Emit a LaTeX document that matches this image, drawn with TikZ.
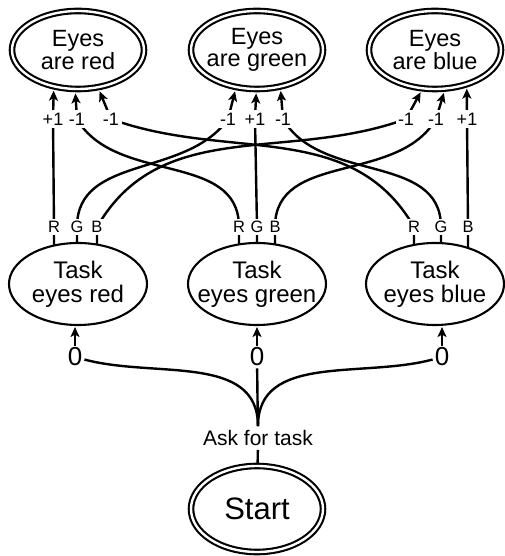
\documentclass[tikz,border=0pt]{standalone}
\usepackage{fontspec}
\setmainfont{Liberation Sans}
\usetikzlibrary{shapes.geometric,arrows.meta,backgrounds}

\begin{document}
\begin{tikzpicture}[x=1pt,y=1pt,
    state/.style={draw,ellipse,line width=2.1pt,fill=white,inner xsep=-12pt,inner ysep=0pt,minimum width=138pt,minimum height=82pt,align=center,font=\fontsize{24}{24}\selectfont},
    goal/.style={state,double,double distance=2.4pt,inner xsep=-6pt,minimum width=132pt,minimum height=78pt,font=\fontsize{23.5}{21.5}\selectfont},
    wt/.style={fill=white,inner sep=2.5pt,font=\fontsize{18}{18}\selectfont},
    port/.style={fill=white,inner sep=2.5pt,font=\fontsize{16.5}{16.5}\selectfont},
    zero/.style={fill=white,inner sep=2pt,font=\fontsize{26}{26}\selectfont},
    arc/.style={line width=2.4pt},
    tip/.style={arc,-{Stealth[length=10pt,width=9pt,inset=2.5pt]},shorten >=1pt},
    tipd/.style={tip,shorten >=3.4pt}]
    \useasboundingbox (0,0) rectangle (505,556);
    % goal states
    \node[goal](red)at(78,506){Eyes\\are red};
    \node[goal](green)at(257,506){Eyes\\are green};
    \node[goal](blue)at(435,506){Eyes\\are blue};
    % tasks
    \node[state](tred)at(78,272){Task\\eyes red};
    \node[state](tgreen)at(257,272){Task\\eyes green};
    \node[state](tblue)at(435,272){Task\\eyes blue};
    \node[goal,minimum height=86pt,font=\fontsize{31}{31}\selectfont](start)at(257,47){Start};
    \node[inner sep=4pt,font=\fontsize{21}{21}\selectfont](ask)at(258,118){Ask for task};
    % weights at the goals
    \node[wt](r1)at(53,437){+1};
    \node[wt](r2)at(77,437){-1};
    \node[wt](r3)at(111,437){-1};
    \node[wt](g1)at(228,437){-1};
    \node[wt](g2)at(255,437){+1};
    \node[wt](g3)at(283,437){-1};
    \node[wt](b1)at(406,437){-1};
    \node[wt](b2)at(436,437){-1};
    \node[wt](b3)at(467,437){+1};
    % ports of the tasks
    \node[port](rr)at(54,329){R};
    \node[port](rg)at(77,329){G};
    \node[port](rb)at(97,329){B};
    \node[port](gr)at(239,329){R};
    \node[port](gg)at(257,329){G};
    \node[port](gb)at(275,329){B};
    \node[port](br)at(414,329){R};
    \node[port](bg)at(441,329){G};
    \node[port](bb)at(468,329){B};
    \node[zero](z1)at(75,199){0};
    \node[zero](z2)at(257,199){0};
    \node[zero](z3)at(442,199){0};
    \begin{pgfonlayer}{background}
        \draw[tipd](rr|-tred)--(rr.center)--(r1.center)--(red.-123);
        \draw[tipd](rg|-tred)--(rg.center)to[out=90,in=-125](g1.center)--(green.-119);
        \draw[tipd](rb|-tred)--(rb.center)to[out=60,in=-160](b1.center)--(blue.-108);
        \draw[tipd](gr|-tgreen)--(gr.center)to[out=90,in=-60](r2.center)--(red.-94);
        \draw[tipd](gg|-tgreen)--(gg.center)--(g2.center)--(green.-91);
        \draw[tipd](gb|-tgreen)--(gb.center)to[out=90,in=-120](b2.center)--(blue.-76);
        \draw[tipd](br|-tblue)--(br.center)to[out=120,in=-20](r3.center)--(red.-62);
        \draw[tipd](bg|-tblue)--(bg.center)to[out=90,in=-60](g3.center)--(green.-58);
        \draw[tipd](bb|-tblue)--(bb.center)--(b3.center)--(blue.-48);
        % from the start
        \draw[arc](start)--(ask);
        \draw[arc](ask)--(z2);
        \draw[arc](ask.north)to[out=90,in=-15](z1);
        \draw[arc](ask.north)to[out=90,in=-165](z3);
        \draw[tip](z1)--(z1|-tred.south);
        \draw[tip](z2)--(z2|-tgreen.south);
        \draw[tip](z3)--(z3|-tblue.south);
    \end{pgfonlayer}
\end{tikzpicture}
\end{document}
